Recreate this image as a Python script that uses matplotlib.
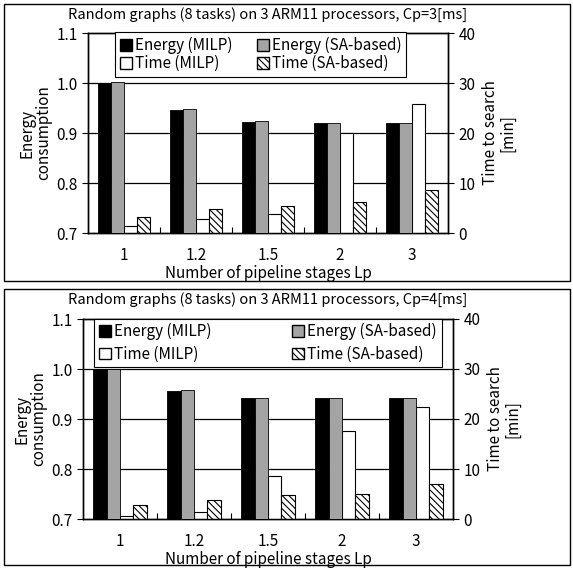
import matplotlib
matplotlib.use("Agg")
import matplotlib.pyplot as plt
import numpy as np
from matplotlib.patches import Rectangle, Patch

plt.rcParams["font.family"] = ["Noto Sans CJK JP", "DejaVu Sans"]
plt.rcParams["hatch.linewidth"] = 0.8

# -- Data -------------------------------------------------------------------
stages = ["1", "1.2", "1.5", "2", "3"]
titles = ["Random graphs (8 tasks) on 3 ARM11 processors, Cp=3[ms]",
          "Random graphs (8 tasks) on 3 ARM11 processors, Cp=4[ms]"]

energy_milp_cp3 = [1.000, 0.946, 0.922, 0.921, 0.921]
energy_sa_cp3   = [1.003, 0.949, 0.925, 0.921, 0.921]
time_milp_cp3   = [1.4, 2.9, 3.9, 20.0, 25.9]
time_sa_cp3     = [3.3, 4.8, 5.5, 6.3, 8.6]

energy_milp_cp4 = [1.000, 0.957, 0.942, 0.942, 0.942]
energy_sa_cp4   = [1.000, 0.958, 0.943, 0.942, 0.942]
time_milp_cp4   = [0.7, 1.5, 8.7, 17.7, 22.5]
time_sa_cp4     = [2.9, 3.9, 4.8, 5.1, 7.1]

panels = [
    (energy_milp_cp3, energy_sa_cp3, time_milp_cp3, time_sa_cp3),
    (energy_milp_cp4, energy_sa_cp4, time_milp_cp4, time_sa_cp4),
]

W, H = 573, 568
fig = plt.figure(figsize=(W / 100, H / 100), dpi=100)

# axes boxes in pixels: left, top, right, bottom
ax_px = [(88, 33, 448, 233), (83, 319, 453, 519)]
frame_px = [(4, 4, 570, 281), (4, 289, 570, 565)]
title_y = [15, 300]
legend_anchor = [(0.055, 0.81, 0.85, 0.165), (0.01, 0.775, 0.98, 0.21)]
legend_gap = [3.0, 5.5]

x = np.arange(len(stages))
bw = 0.18

for k, (e_milp, e_sa, t_milp, t_sa) in enumerate(panels):
    l, t, r, b = ax_px[k]
    ax = fig.add_axes([l / W, 1 - b / H, (r - l) / W, (b - t) / H])
    ax2 = ax.twinx()
    ax.set_zorder(ax2.get_zorder() + 1)
    ax.patch.set_visible(False)

    ax.set_ylim(0.7, 1.1)
    ax.set_yticks([0.7, 0.8, 0.9, 1.0, 1.1])
    ax.set_yticklabels(["0.7", "0.8", "0.9", "1.0", "1.1"])
    ax2.set_ylim(0, 40)
    ax2.set_yticks([0, 10, 20, 30, 40])
    ax.set_xlim(-0.5, len(stages) - 0.5)

    # gridlines behind everything (drawn on ax2 so bars cover them)
    for yv in [0.8, 0.9, 1.0]:
        ax2.axhline((yv - 0.7) / 0.4 * 40, color="black", lw=0.9, zorder=0)

    ax.bar(x - 1.5 * bw, np.array(e_milp) - 0.7, bw, bottom=0.7,
           color="black", edgecolor="black", lw=0.6, zorder=3)
    ax.bar(x - 0.5 * bw, np.array(e_sa) - 0.7, bw, bottom=0.7,
           color="#a4a4a4", edgecolor="black", lw=0.6, zorder=3)
    ax2.bar(x + 0.5 * bw, t_milp, bw, color="white", edgecolor="black",
            lw=0.8, zorder=3)
    ax2.bar(x + 1.5 * bw, t_sa, bw, color="white", edgecolor="black",
            lw=0.8, hatch="\\\\\\\\\\", zorder=3)

    ax.set_xticks(x)
    ax.set_xticklabels(stages, fontsize=11)
    ax.tick_params(axis="x", length=0, pad=10)
    ax.set_xticks(x[:-1] + 0.5, minor=True)
    ax.tick_params(axis="x", which="minor", direction="in", length=4, width=0.8)
    ax.tick_params(axis="y", direction="out", length=4, labelsize=11, width=0.8)
    ax2.tick_params(axis="y", direction="out", length=4, labelsize=11, width=0.8)
    for a in (ax, ax2):
        for s in a.spines.values():
            s.set_linewidth(1.0)

    ax.set_xlabel("Number of pipeline stages Lp", fontsize=11, labelpad=1)
    ax.set_ylabel("Energy\nconsumption", fontsize=11, labelpad=3, linespacing=1.0)
    ax2.set_ylabel("Time to search\n[min]", fontsize=11, labelpad=5,
                   linespacing=1.0)
    fig.text((l + r) / 2 / W, 1 - title_y[k] / H, titles[k], fontsize=10.5,
             ha="center", va="center")

    handles = [
        Patch(facecolor="black", edgecolor="black", label="Energy (MILP)"),
        Patch(facecolor="white", edgecolor="black", label="Time (MILP)"),
        Patch(facecolor="#a4a4a4", edgecolor="black", label="Energy (SA-based)"),
        Patch(facecolor="white", edgecolor="black", hatch="\\\\\\\\\\",
              label="Time (SA-based)"),
    ]
    leg = ax.legend(handles=handles, ncol=2, loc="center",
                    bbox_to_anchor=legend_anchor[k], mode="expand",
                    fontsize=11, handlelength=0.8, handleheight=0.8,
                    handletextpad=0.2, columnspacing=legend_gap[k],
                    labelspacing=0.05 if k == 0 else 0.35,
                    borderpad=0.3, fancybox=False, framealpha=1,
                    edgecolor="black")
    leg.get_frame().set_linewidth(0.8)
    leg.set_zorder(10)

    fl, ft, fr, fb = frame_px[k]
    fig.add_artist(Rectangle((fl / W, 1 - fb / H), (fr - fl) / W, (fb - ft) / H,
                             transform=fig.transFigure, fill=False,
                             edgecolor="black", lw=1.0))

fig.savefig("out.png", dpi=100)
